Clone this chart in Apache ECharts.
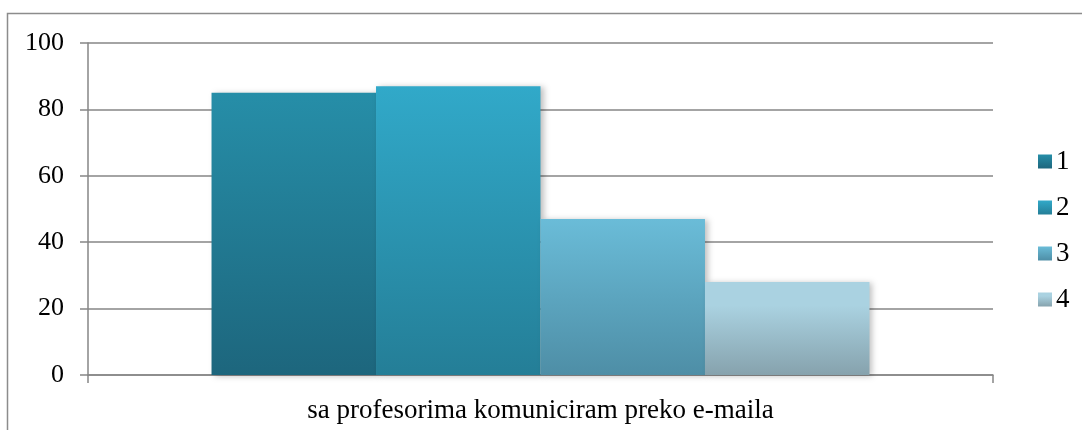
<!DOCTYPE html>
<html>
<head>
<meta charset="utf-8">
<script src="https://cdn.jsdelivr.net/npm/echarts@6/dist/echarts.min.js"></script>
<style>
  html, body { margin: 0; padding: 0; background: #fff; }
  #chart { width: 1082px; height: 430px; }
</style>
</head>
<body>
<div id="chart"></div>
<script>
var categories = ['sa profesorima komuniciram preko e-maila'];
var seriesNames = ['1', '2', '3', '4'];
var seriesValues = [[85], [87], [47], [28]];
var yTicks = [0, 20, 40, 60, 80, 100];

// top / bottom colours of each bar's gradient
var topColors = ['#268ea8', '#31a9c9', '#6abcd8', '#aad2e1'];
var bottomColors = ['#1d667d', '#247e97', '#4e8ea6', '#86a2ad'];

function grad(i) {
    return new echarts.graphic.LinearGradient(0, 0, 0, 1, [
        { offset: 0, color: topColors[i] },
        { offset: i === 3 ? 0.25 : 0, color: topColors[i] },
        { offset: 1, color: bottomColors[i] }
    ]);
}

var font = '"Liberation Serif", "Times New Roman", serif';
var myChart = echarts.init(document.getElementById('chart'));

var series = [];
for (let i = 0; i < seriesNames.length; i++) {
    series.push({
        name: seriesNames[i],
        type: 'bar',
        data: seriesValues[i],
        barGap: '0%',
        barCategoryGap: '27.3%',
        itemStyle: {
            color: grad(i),
            shadowColor: 'rgba(0,0,0,0.25)',
            shadowBlur: 6,
            shadowOffsetX: 3,
            shadowOffsetY: 1
        }
    });
}

option = {
    animation: false,
    graphic: [
        {
            type: 'polyline',
            shape: { points: [[7.5, 430], [7.5, 13.5], [1082, 13.5]] },
            style: { stroke: '#8c8c8c', lineWidth: 1.5, fill: null }
        }
    ],
    legend: {
        orient: 'vertical',
        left: 1033,
        top: 143,
        itemWidth: 14,
        itemHeight: 14,
        itemGap: 19,
        icon: 'rect',
        data: seriesNames,
        textStyle: { fontFamily: font, fontSize: 27, color: '#000', padding: [0, 0, 0, -1] }
    },
    grid: {
        left: 88,
        right: 89,
        top: 43,
        bottom: 55
    },
    xAxis: {
        type: 'category',
        data: categories,
        axisLine: { lineStyle: { color: '#868686', width: 1.5 } },
        axisTick: { show: true, length: 8, lineStyle: { color: '#868686', width: 1.5 } },
        axisLabel: { fontFamily: font, fontSize: 27, color: '#000', margin: 22 }
    },
    yAxis: {
        type: 'value',
        min: yTicks[0],
        max: yTicks[yTicks.length - 1],
        interval: 20,
        axisLine: { show: true, lineStyle: { color: '#868686', width: 1.5 } },
        axisTick: { show: true, length: 8, lineStyle: { color: '#868686', width: 1.5 } },
        splitLine: { lineStyle: { color: '#868686', width: 1.5 } },
        axisLabel: { fontFamily: font, fontSize: 26, color: '#000', margin: 24 }
    },
    series: series
};

myChart.setOption(option);
</script>
</body>
</html>
